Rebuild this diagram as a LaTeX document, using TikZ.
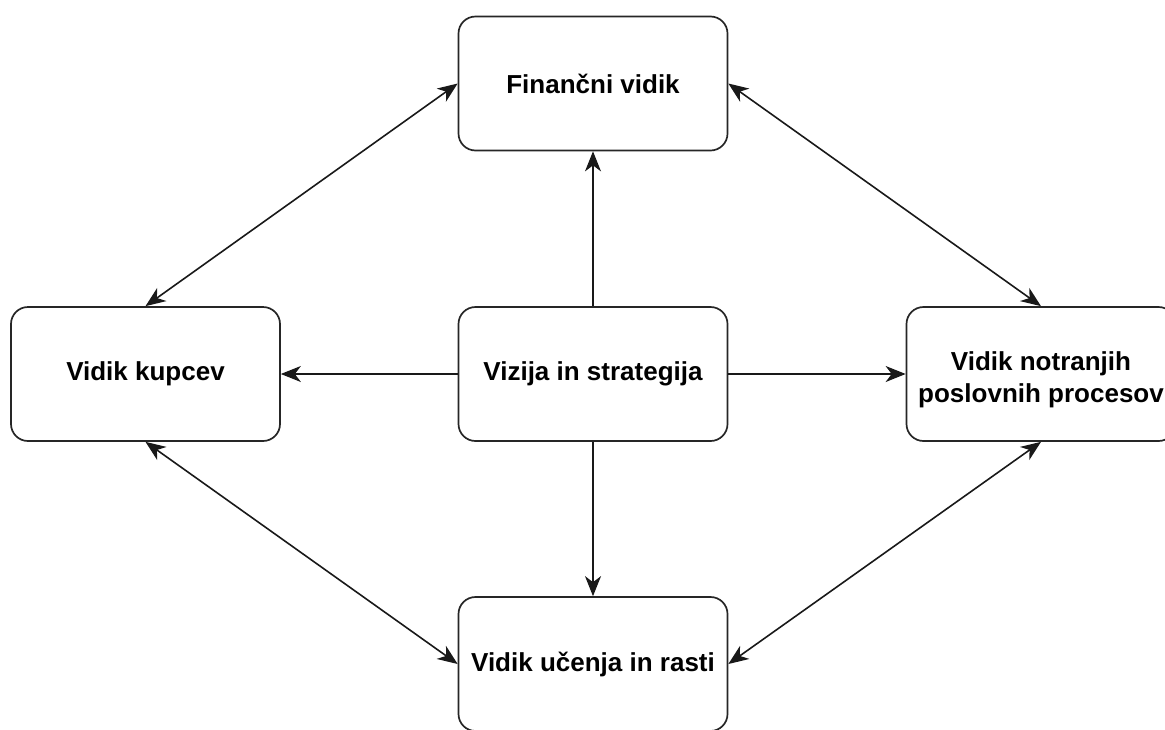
\documentclass[tikz,border=0pt]{standalone}
\usepackage{fontspec}
\setmainfont{Liberation Sans}
\usetikzlibrary{arrows.meta}
\begin{document}
\begin{tikzpicture}[x=1pt,y=-1pt,
  box/.style={draw=black!85, line width=1.7pt, rounded corners=17pt, fill=white,
    minimum width=269pt, minimum height=134pt, inner sep=0pt, align=center,
    font=\fontsize{26}{33}\selectfont\bfseries},
  tip/.tip={Stealth[length=20pt,width=16pt,inset=6pt]},
  link/.style={line width=1.6pt, draw=black!90, -tip},
  both/.style={line width=1.6pt, draw=black!90, tip-tip}]
\useasboundingbox (0,0) rectangle (1165,729);

% the five perspectives
\node[box] (fin) at (593,83.5) {Finančni vidik};
\node[box] (viz) at (593,374) {Vizija in strategija};
\node[box] (kup) at (145.5,374) {Vidik kupcev};
\node[box] (not) at (1041,374) {\raisebox{-6pt}[\height][\depth]{\begin{tabular}{@{}c@{}}Vidik notranjih\\[-1pt]poslovnih procesov\end{tabular}}};
\node[box] (uce) at (593,664) {Vidik učenja in rasti};

% vision and strategy drives every perspective
\draw[link] (viz.north) -- (fin.south);
\draw[link] (viz.west) -- (kup.east);
\draw[link] (viz.east) -- (not.west);
\draw[link] (viz.south) -- (uce.north);

% mutual links around the ring
\draw[both] (kup.north) -- (fin.west);
\draw[both] (fin.east) -- (not.north);
\draw[both] (kup.south) -- (uce.west);
\draw[both] (not.south) -- (uce.east);
\end{tikzpicture}
\end{document}
